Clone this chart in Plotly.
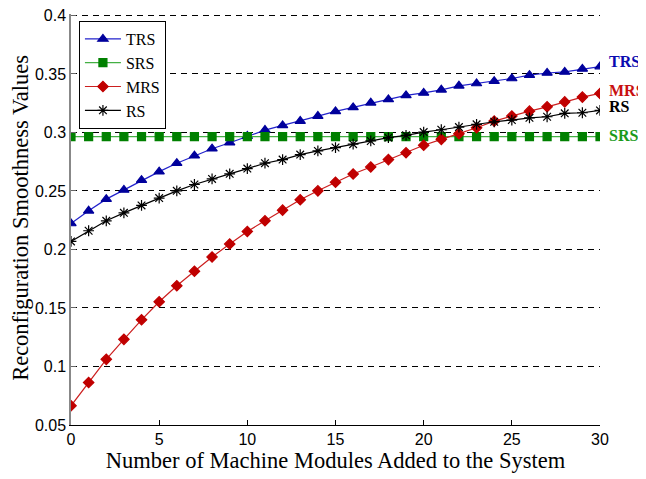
import plotly.graph_objects as go

x = list(range(31))
trs = [0.2222, 0.2330, 0.2430, 0.2509, 0.2592, 0.2665, 0.2737, 0.2801, 0.2861, 0.2912,
       0.2969, 0.3020, 0.3060, 0.3097, 0.3140, 0.3180, 0.3214, 0.3253, 0.3282, 0.3316,
       0.3338, 0.3364, 0.3398, 0.3418, 0.3438, 0.3461, 0.3489, 0.3508, 0.3517, 0.3543, 0.3563]
srs = [0.2965] * 31
mrs = [0.0664, 0.0863, 0.1061, 0.1232, 0.1399, 0.1553, 0.1690, 0.1814, 0.1936, 0.2047,
       0.2154, 0.2245, 0.2336, 0.2425, 0.2501, 0.2574, 0.2645, 0.2705, 0.2768, 0.2827,
       0.2890, 0.2941, 0.2989, 0.3040, 0.3097, 0.3140, 0.3182, 0.3219, 0.3261, 0.3302, 0.3333]
rs = [0.2069, 0.2160, 0.2245, 0.2313, 0.2376, 0.2439, 0.2501, 0.2555, 0.2603, 0.2646,
      0.2691, 0.2737, 0.2768, 0.2811, 0.2842, 0.2871, 0.2900, 0.2927, 0.2955, 0.2975,
      0.3003, 0.3023, 0.3046, 0.3069, 0.3091, 0.3106, 0.3125, 0.3134, 0.3163, 0.3168, 0.3188]

y_ticks = [0.05, 0.1, 0.15, 0.2, 0.25, 0.3, 0.35, 0.4]
y_tick_text = ["0.05", "0.1", "0.15", "0.2", "0.25", "0.3", "0.35", "0.4"]
x_ticks = [0, 5, 10, 15, 20, 25, 30]

series = [
    ("TRS", trs, "#2222cc", "#00009c", "triangle-up", 9, "#0a0ab0"),
    ("SRS", srs, "#44b044", "#008000", "square", 8, "#1a9a1a"),
    ("MRS", mrs, "#cc1f1f", "#c00000", "diamond", 8, "#c81010"),
    ("RS", rs, "#000000", "#000000", "asterisk-open", 9, "#000000"),
]

fig = go.Figure()
for name, ys, lc, mc, sym, ms, tc in series:
    fig.add_trace(go.Scatter(
        x=x, y=ys, name=name, mode="lines+markers",
        line=dict(color=lc, width=1.2),
        marker=dict(symbol=sym, size=ms, color=mc,
                    line=dict(color=mc, width=1.2)),
    ))

label_shift = {"TRS": 5, "SRS": 1, "MRS": 3, "RS": 4}
for name, ys, lc, mc, sym, ms, tc in series:
    fig.add_annotation(x=30, y=ys[-1], xref="x", yref="y", text="<b>%s</b>" % name,
                       showarrow=False, xanchor="left", xshift=7, yshift=label_shift[name],
                       font=dict(family="Liberation Serif", size=16, color=tc))

# y-axis title as a rotated annotation (precise placement)
fig.add_annotation(x=-0.0945, y=0.504, xref="paper", yref="paper",
                   text="Reconfiguration Smoothness Values", textangle=-90,
                   showarrow=False, xanchor="center", yanchor="middle",
                   font=dict(family="Liberation Serif", size=22.5, color="black"))

# The page body adds an 8px margin, so the figure is sized and offset to compensate.
fig.update_layout(
    width=638, height=471,
    margin=dict(l=63, r=46, t=6, b=54),
    paper_bgcolor="white", plot_bgcolor="white",
    showlegend=True,
    legend=dict(x=0.015, y=0.983, xanchor="left", yanchor="top",
                bgcolor="white", bordercolor="black", borderwidth=1,
                font=dict(family="Liberation Serif", size=16, color="black"),
                tracegroupgap=0, itemwidth=36),
    xaxis=dict(range=[0, 30], tickvals=x_ticks, ticks="inside", ticklen=5,
               tickcolor="black", automargin=False,
               showline=True, linecolor="black", linewidth=1.2, showgrid=False,
               zeroline=False, mirror=False,
               tickfont=dict(family="Liberation Sans", size=16, color="black"),
               title=dict(text="Number of Machine Modules Added to the System",
                          font=dict(family="Liberation Serif", size=22.5, color="black"),
                          standoff=4)),
    yaxis=dict(range=[0.05, 0.4012], tickvals=y_ticks, ticktext=y_tick_text,
               ticks="inside", ticklen=5, tickcolor="#666666", automargin=False,
               ticklabeloverflow="allow",
               showline=True, linecolor="#888888", linewidth=1.5,
               showgrid=True, gridcolor="black", gridwidth=1, griddash="6px,5px",
               zeroline=False,
               tickfont=dict(family="Liberation Sans", size=16, color="black")),
)

fig.write_html("out.html")
